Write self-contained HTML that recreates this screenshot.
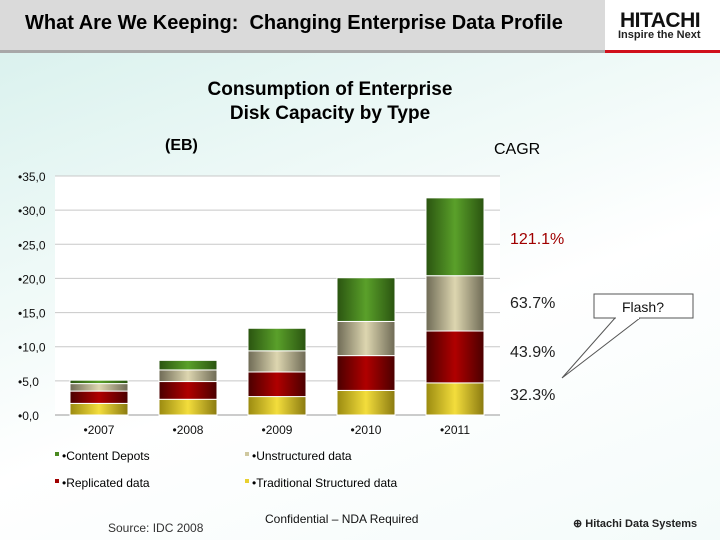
<!DOCTYPE html>
<html><head><meta charset="utf-8"><style>
body{margin:0;width:720px;height:540px;overflow:hidden;font-family:"Liberation Sans",Arial,sans-serif;position:relative;background:linear-gradient(160deg,#d6f0ec 0%,#eef9f7 35%,#ffffff 60%,#f4fbfa 100%);}
.abs{position:absolute}
</style></head><body>
<div class="abs" style="left:0;top:0;width:605px;height:50px;background:#dadada;border-bottom:3px solid #a8a8a8"></div>
<div class="abs" style="left:25px;top:12px;font-size:20px;font-weight:bold;color:#000">What Are We Keeping:&nbsp; Changing Enterprise Data Profile</div>
<div class="abs" style="left:605px;top:0;width:115px;height:50px;background:#fff;border-bottom:3px solid #d0101b"></div>
<div class="abs" style="left:620px;top:11px;font-size:21px;font-weight:900;letter-spacing:-0.5px;color:#111;line-height:20px">HITACHI</div>
<div class="abs" style="left:618px;top:29px;font-size:11px;font-weight:bold;color:#222">Inspire the Next</div>
<div class="abs" style="left:170px;top:78px;width:320px;text-align:center;font-size:19px;font-weight:bold;line-height:24px">Consumption of Enterprise<br>Disk Capacity by Type</div>
<div class="abs" style="left:165px;top:137px;font-size:16px;font-weight:bold">(EB)</div>
<div class="abs" style="left:494px;top:141px;font-size:16px">CAGR</div>
<svg class="abs" style="left:0;top:0" width="720" height="540">
<defs>
<linearGradient id="gy" x1="0" x2="1"><stop offset="0" stop-color="#9a8a10"/><stop offset="0.5" stop-color="#f3dd3c"/><stop offset="1" stop-color="#8a7a10"/></linearGradient>
<linearGradient id="gr" x1="0" x2="1"><stop offset="0" stop-color="#4a0000"/><stop offset="0.5" stop-color="#b00000"/><stop offset="1" stop-color="#4a0000"/></linearGradient>
<linearGradient id="gb" x1="0" x2="1"><stop offset="0" stop-color="#6e6a55"/><stop offset="0.5" stop-color="#ddd6b0"/><stop offset="1" stop-color="#6e6a55"/></linearGradient>
<linearGradient id="gg" x1="0" x2="1"><stop offset="0" stop-color="#2a5410"/><stop offset="0.5" stop-color="#5aa02a"/><stop offset="1" stop-color="#2a5410"/></linearGradient>
</defs>
<rect x="55" y="176" width="445" height="239" fill="#fff"/>
<g id="grid"></g><g id="bars"></g><g id="labels"></g>
<text x="510" y="244" font-size="16" fill="#a00000">121.1%</text>
<text x="510" y="308" font-size="16" fill="#222">63.7%</text>
<text x="510" y="357" font-size="16" fill="#222">43.9%</text>
<text x="510" y="400" font-size="16" fill="#222">32.3%</text>
<rect x="594" y="294" width="99" height="24" fill="#fff" stroke="#555"/>
<text x="643" y="312" font-size="14" text-anchor="middle" fill="#111">Flash?</text>
<polygon points="615,318 640,318 562,378" fill="#fff" stroke="#555"/>
<line x1="616" y1="318" x2="639" y2="318" stroke="#fff" stroke-width="2"/>
<rect x="55" y="452" width="4" height="4" fill="#4a8a20"/><text x="62" y="460" font-size="12">•Content Depots</text>
<rect x="245" y="452" width="4" height="4" fill="#cfc8a0"/><text x="252" y="460" font-size="12">•Unstructured data</text>
<rect x="55" y="479" width="4" height="4" fill="#a00000"/><text x="62" y="487" font-size="12">•Replicated data</text>
<rect x="245" y="479" width="4" height="4" fill="#e8d030"/><text x="252" y="487" font-size="12">•Traditional Structured data</text>
<text x="108" y="532" font-size="12" fill="#333">Source: IDC 2008</text>
<text x="265" y="523" font-size="12" fill="#111">Confidential – NDA Required</text>
<text x="573" y="527" font-size="11" font-weight="bold" fill="#222">⊕ Hitachi Data Systems</text>
</svg>
<script>
const years=["2007","2008","2009","2010","2011"];
const traditional=[1.7,2.3,2.7,3.6,4.7];
const replicated=[1.8,2.6,3.6,5.1,7.6];
const unstructured=[1.1,1.7,3.1,5.0,8.1];
const content=[0.5,1.4,3.3,6.4,11.4];
const ticks=[0,5,10,15,20,25,30,35];
const tickLabels=["•0,0","•5,0","•10,0","•15,0","•20,0","•25,0","•30,0","•35,0"];
const NS="http://www.w3.org/2000/svg";
const y=v=>415-v*(239/35);
const x=i=>55+i*89+15;
function mk(t,a,p){const e=document.createElementNS(NS,t);for(const k in a)e.setAttribute(k,a[k]);document.getElementById(p).appendChild(e);return e;}
ticks.forEach((t,i)=>{
 const l=mk('line',{x1:55,x2:500,y1:y(t),y2:y(t),stroke:i==0?'#999':'#c8c8c8'},'grid');
 
 
 const tx=mk('text',{x:18,y:y(t)+5,'font-size':12,fill:'#111'},'labels');tx.textContent=tickLabels[i];
 
 
});
const series=[[traditional,'url(#gy)'],[replicated,'url(#gr)'],[unstructured,'url(#gb)'],[content,'url(#gg)']];
years.forEach((yr,i)=>{
 let base=0;
 series.forEach(([arr,f])=>{
  const r=mk('rect',{x:x(i),width:58,y:y(base+arr[i]),height:y(base)-y(base+arr[i]),fill:f,stroke:'#fff','stroke-width':1},'bars');
  
  
  base+=arr[i];
 });
 const tx=mk('text',{x:x(i)+29,y:434,'font-size':12,'text-anchor':'middle',fill:'#111'},'labels');tx.textContent='•'+yr;
 
 
});
</script>
</body></html>
